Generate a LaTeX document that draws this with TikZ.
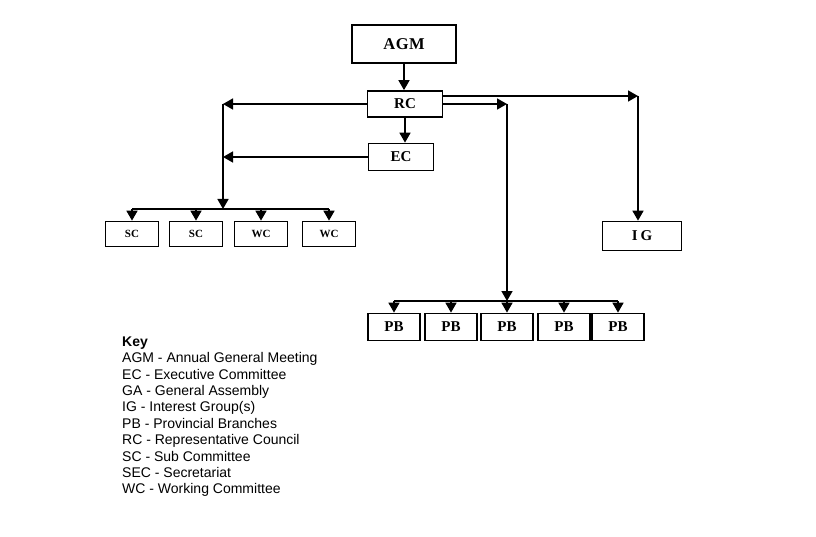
\documentclass[tikz,border=0pt]{standalone}
\usepackage{fontspec}
\setmainfont{Liberation Serif}
\newfontfamily\keyfont{Liberation Sans}
\usetikzlibrary{arrows.meta}

\begin{document}
\begin{tikzpicture}[x=1pt,y=-1pt]
            \useasboundingbox (0,0) rectangle (816,537);
            \begin{scope}[every node/.style={rectangle,draw,line width=1.7pt,inner sep=0pt,minimum height=26pt}]
                \node[minimum width=104pt,minimum height=38pt,font=\fontsize{16.5}{16.5}\selectfont\bfseries] (AGM) at (404,44) {A\kern.5pt G\kern.5pt M};
                \node[minimum width=75pt,font=\fontsize{15}{15}\selectfont\bfseries] (RC) at (405,104) {RC};
                \node[minimum width=65pt,minimum height=27pt,font=\fontsize{15}{15}\selectfont\bfseries] (EC) at (401,157) {EC};
                \node[minimum width=79pt,minimum height=29pt,font=\fontsize{15}{15}\selectfont\bfseries] (IG) at (642,236) {I\kern3pt G};
                \foreach \x/\t [count=\i] in {132/SC,196/SC,261/WC,329/WC}
                    \node[minimum width=53pt,minimum height=25pt,font=\fontsize{11}{11}\selectfont\bfseries] (C\i) at (\x,234) {\t};
                \foreach \x [count=\i] in {394,451,507,564,618}
                    \node[minimum width=52pt,minimum height=27pt,font=\fontsize{15}{15}\selectfont\bfseries] (PB\i) at (\x,327) {PB};
            \end{scope}

            \coordinate (igturn) at (638,96);
            \coordinate (pbturn) at (507,104);
            \coordinate (scturn) at (223,104);
            \coordinate (scbus) at (223,209);
            \coordinate (pbbus) at (507,301);

            \begin{scope}[>={Triangle[length=10pt,width=11pt]},
                          every edge/.style={draw=black,line width=1.6pt}]
                \path[->] (AGM.south) edge (AGM.south |- RC.north);
                \path[->] (RC.south) edge (RC.south |- EC.north);
                \path[->] (RC.east |- igturn) edge (igturn);
                \path[->] (igturn) edge (igturn |- IG.north);
                \path[->] (RC.east) edge (pbturn);
                \path[->] (pbturn) edge (pbbus);
                \path[->] (RC.west) edge (scturn);
                \path[->] (scturn) edge (scbus);
                \path[->] (EC.west) edge (scturn |- EC.west);
                \path (C1 |- scbus) edge (C4 |- scbus);
                \path (PB1 |- pbbus) edge (PB5 |- pbbus);
                \foreach \i in {1,...,4}
                    \path[->] (C\i |- scbus) edge (C\i.north);
                \foreach \i in {1,...,5}
                    \path[->] (PB\i |- pbbus) edge (PB\i.north);
            \end{scope}

            % key to the abbreviations
            \node[font=\keyfont\fontsize{14}{16.4}\selectfont,align=left,anchor=north west,inner sep=0pt] (key) at (122,336.5)
                {\textbf{Key}\\
                 AGM - Annual General Meeting\\
                 EC - Executive Committee\\
                 GA - General Assembly\\
                 IG - Interest Group(s)\\
                 PB - Provincial Branches\\
                 RC - Representative Council\\
                 SC - Sub Committee\\
                 SEC - Secretariat\\
                 WC - Working Committee};
\end{tikzpicture}
\end{document}
